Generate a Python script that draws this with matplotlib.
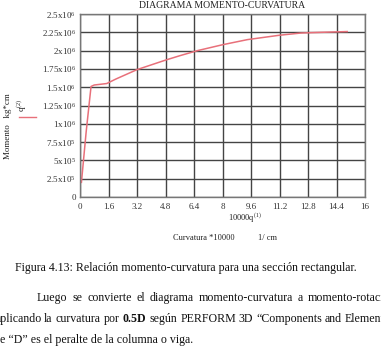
import matplotlib
matplotlib.use("Agg")
import matplotlib.pyplot as plt
from matplotlib.lines import Line2D

plt.rcParams['mathtext.fontset'] = 'custom'
plt.rcParams['mathtext.rm'] = 'Liberation Serif'
plt.rcParams['mathtext.bf'] = 'Liberation Serif:bold'
plt.rcParams['mathtext.it'] = 'Liberation Serif:italic'
plt.rcParams['font.family'] = 'Liberation Serif'

# Data (curvature*10000 [1/cm], moment [kg*cm])
curv = [0.08, 0.35, 0.62, 0.8, 1.5, 2.0, 3.2, 4.8, 5.6, 6.6, 8.0, 9.4, 11.2, 12.4, 13.6, 15.0]
moment = [2.0e5, 9.0e5, 1.51e6, 1.53e6, 1.55e6, 1.61e6, 1.74e6, 1.87e6, 1.93e6, 2.0e6,
          2.08e6, 2.15e6, 2.21e6, 2.24e6, 2.25e6, 2.26e6]

xticks = [0, 1.6, 3.2, 4.8, 6.4, 8, 9.6, 11.2, 12.8, 14.4, 16]
xtick_labels = ["0", "1.6", "3.2", "4.8", "6.4", "8", "9.6", "11.2", "12.8", "14.4", "16"]
yticks = [0, 2.5e5, 5e5, 7.5e5, 1e6, 1.25e6, 1.5e6, 1.75e6, 2e6, 2.25e6, 2.5e6]
ytick_labels = ["0", "2.5x10$^{5}$", "5x10$^{5}$", "7.5x10$^{5}$", "1x10$^{6}$",
                "1.25x10$^{6}$", "1.5x10$^{6}$", "1.75x10$^{6}$", "2x10$^{6}$",
                "2.25x10$^{6}$", "2.5x10$^{6}$"]

W, H = 381, 360
fig = plt.figure(figsize=(W / 100, H / 100), dpi=100)
fig.patch.set_facecolor('white')

L, R, T, B = 80, 365, 14, 197
ax = fig.add_axes([L / W, 1 - B / H, (R - L) / W, (B - T) / H])
ax.plot(curv, moment, color='#e8707a', lw=1.1)
ax.set_xlim(0, 16)
ax.set_ylim(0, 2.5e6)
ax.set_xticks(xticks)
ax.set_xticklabels(xtick_labels, fontsize=6.5, color='#333333')
ax.set_yticks(yticks)
ax.set_yticklabels(ytick_labels, fontsize=6.5, color='#333333')
ax.tick_params(length=0, pad=3)
ax.tick_params(axis='x', pad=4)
ax.grid(True, color='#444444', lw=1.0)
for s in ax.spines.values():
    s.set_color('#777777')
    s.set_linewidth(1.0)
ax.set_axisbelow(True)

def fx(px):
    return px / W

def fy(py):
    return 1 - py / H

fig.text(fx(222), fy(5), "DIAGRAMA MOMENTO-CURVATURA", fontsize=7, ha='center', va='center', color='#222222')
fig.text(fx(8), fy(126), "Momento   kg*cm", fontsize=6.5, rotation=90, ha='center', va='center', color='#222222')
fig.text(fx(22), fy(105), "q$^{(2)}$", fontsize=6.5, rotation=90, ha='center', va='center', color='#222222')
fig.add_artist(Line2D([fx(19), fx(36)], [fy(117), fy(117)], color='#e8707a', lw=1.0))
fig.text(fx(245), fy(218), "10000q$^{(1)}$", fontsize=6, ha='center', va='center', color='#222222')
fig.text(fx(173), fy(238), "Curvatura *10000", fontsize=6, ha='left', va='center', color='#222222')
fig.text(fx(258), fy(238), "1/ cm", fontsize=6, ha='left', va='center', color='#222222')

FS = 8.6
TC = '#111111'
fig.text(fx(15), fy(268), "Figura 4.13: Relación momento-curvatura para una sección rectangular.",
         fontsize=FS, ha='left', va='center', color=TC)

# justified first paragraph line
renderer = fig.canvas.get_renderer()
words1 = ["Luego", "se", "convierte", "el", "diagrama", "momento-curvatura", "a", "momento-rotación"]
def width_px(s):
    t = fig.text(0, 0, s, fontsize=FS)
    w = t.get_window_extent(renderer).width
    t.remove()
    return w
widths = [width_px(w) for w in words1]
last_start = 381 - width_px("momento-rotac")
gap = (last_start - 37 - sum(widths[:-1])) / (len(words1) - 1)
x = 37
for w, wd in zip(words1, widths):
    fig.text(fx(x), fy(298), w, fontsize=FS, ha='left', va='center', color=TC)
    x += wd + gap

words2 = ["aplicando", "la", "curvatura", "por", "$\\mathbf{0.5D}$", "según", "PERFORM", "3D",
          "“Components", "and", "Elements”"]
widths2 = [width_px(w) for w in words2]
a_w = width_px("a")
start2 = -a_w + 0.5
end_target = 381 - width_px("Elemen")
gap2 = (end_target - start2 - sum(widths2[:-1])) / (len(words2) - 1)
x = start2
for w, wd in zip(words2, widths2):
    fig.text(fx(x), fy(319), w, fontsize=FS, ha='left', va='center', color=TC)
    x += wd + gap2

fig.text(fx(-width_px("d") + 0.5), fy(340), "de “D” es el peralte de la columna o viga.",
         fontsize=FS, ha='left', va='center', color=TC)

fig.savefig("out.png", dpi=100)
